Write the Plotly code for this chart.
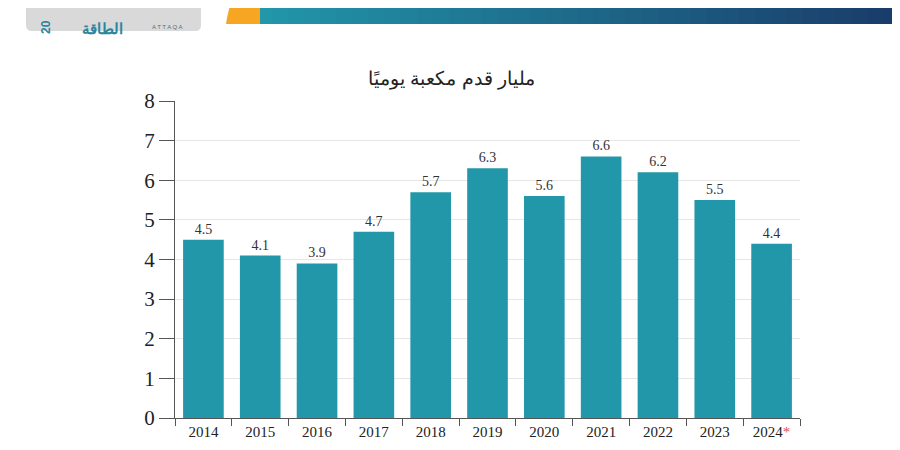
import plotly.graph_objects as go

years = ["2014", "2015", "2016", "2017", "2018", "2019", "2020", "2021", "2022", "2023", "2024"]
tick_labels = ["2014", "2015", "2016", "2017", "2018", "2019", "2020", "2021", "2022", "2023",
               "2024<span style='color:#d9534f'>*</span>"]
values = [4.5, 4.1, 3.9, 4.7, 5.7, 6.3, 5.6, 6.6, 6.2, 5.5, 4.4]
title_text = "مليار قدم مكعبة يوميًا"

W, H = 900, 450
OFF = 8  # page body margin offset
# plot area in reference pixels: x 175..800, y 101..418
L = 175 - OFF
T = 101 - OFF
R = W - (800 - OFF)
B = H - (418 - OFF)
PW, PH = W - L - R, H - T - B

def px(x):
    return (x - OFF - L) / PW

def py(y):
    return (H - B - (y - OFF)) / PH

fig = go.Figure()
fig.add_trace(go.Bar(
    x=years, y=values,
    marker=dict(color="#2297a9", line=dict(width=0)),
    text=[f"{v:.1f}" for v in values],
    textposition="outside",
    textfont=dict(family="Liberation Serif", size=14, color="#333333"),
    cliponaxis=False,
))

shapes = []
# banner gradient
x0, x1 = 256, 900
n = 40
c0 = (0x22, 0x97, 0xa9)
c1 = (0x1a, 0x3c, 0x6a)
for i in range(n):
    t = i / (n - 1)
    c = tuple(int(c0[k] + (c1[k] - c0[k]) * t) for k in range(3))
    xa = x0 + (x1 - x0) * i / n
    xb = x0 + (x1 - x0) * (i + 1) / n + 1
    shapes.append(dict(type="rect", xref="paper", yref="paper",
                       x0=px(xa), x1=px(xb), y0=py(24), y1=py(-10),
                       fillcolor="rgb(%d,%d,%d)" % c, line=dict(width=0), layer="below"))
shapes.append(dict(type="path", xref="paper", yref="paper",
                   path="M %f,%f L %f,%f L %f,%f L %f,%f Q %f,%f %f,%f Z" % (
                       px(226), py(24), px(260), py(24), px(260), py(-10), px(236), py(-10),
                       px(228), py(8), px(226), py(24)),
                   fillcolor="#f6a623", line=dict(width=0), layer="below"))
# logo box
shapes.append(dict(type="path", xref="paper", yref="paper",
                   path="M %f,%f L %f,%f Q %f,%f %f,%f L %f,%f Q %f,%f %f,%f Z" % (
                       px(26), py(-10), px(26), py(25), px(26), py(31), px(32), py(31),
                       px(195), py(31), px(201), py(31), px(201), py(25)),
                   fillcolor="#d9d9d9", line=dict(width=0), layer="below"))
shapes.append(dict(type="rect", xref="paper", yref="paper",
                   x0=px(26), x1=px(201), y0=py(25), y1=py(-10),
                   fillcolor="#d9d9d9", line=dict(width=0), layer="below"))

annotations = [
    dict(text=title_text, xref="paper", yref="paper", x=px(451), y=py(66),
         showarrow=False, font=dict(family="Liberation Sans", size=19, color="#222222")),
    dict(text="<b>الطاقة</b>", xref="paper", yref="paper", x=px(80), y=py(16),
         showarrow=False, font=dict(family="Noto Sans", size=15, color="#2a86a0")),
    dict(text="A T T A Q A", xref="paper", yref="paper", x=px(150), y=py(22),
         showarrow=False, font=dict(family="Liberation Sans", size=6, color="#4d6f80")),
    dict(text="<b>20</b>", xref="paper", yref="paper", x=px(37), y=py(18), textangle=-90,
         showarrow=False, font=dict(family="Liberation Sans", size=12, color="#2a86a0")),
]

fig.update_layout(
    width=W, height=H,
    margin=dict(l=L, r=R, t=T, b=B),
    paper_bgcolor="white", plot_bgcolor="white",
    showlegend=False,
    bargap=0.285,
    shapes=shapes,
    annotations=annotations,
    xaxis=dict(
        type="category",
        tickmode="array", tickvals=years, ticktext=tick_labels,
        tickfont=dict(family="Liberation Serif", size=15, color="#222222"),
        showline=True, linecolor="#555555", linewidth=1.2,
        ticks="outside", tickson="boundaries", ticklen=7, tickcolor="#555555",
        showgrid=False,
    ),
    yaxis=dict(
        range=[0, 8], dtick=1,
        tickfont=dict(family="Liberation Serif", size=21, color="#222222"),
        showline=True, linecolor="#555555", linewidth=1.2,
        ticks="outside", ticklen=15, tickcolor="#555555",
        showgrid=True, gridcolor="#e6e6e6", gridwidth=1,
        zeroline=False,
    ),
)

fig.write_html("out.html")
